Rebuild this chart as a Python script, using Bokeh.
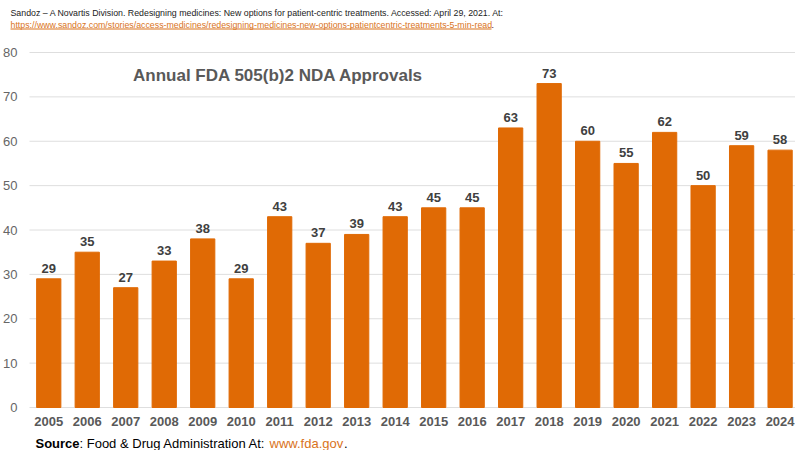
from bokeh.plotting import figure
from bokeh.models import ColumnDataSource, Label, BoxAnnotation
from bokeh.core.properties import value
from bokeh.embed import file_html
from bokeh.resources import INLINE

# Annual FDA 505(b)(2) NDA approvals
years = ["2005", "2006", "2007", "2008", "2009", "2010", "2011", "2012", "2013", "2014",
         "2015", "2016", "2017", "2018", "2019", "2020", "2021", "2022", "2023", "2024"]
approvals = [29, 35, 27, 33, 38, 29, 43, 37, 39, 43, 45, 45, 63, 73, 60, 55, 62, 50, 59, 58]
y_ticks = [0, 10, 20, 30, 40, 50, 60, 70, 80]

FONT = "Liberation Sans"
BAR = "#E06A05"
LINK = "#D9731C"
W, H = 795, 450

# The frame fills the whole canvas so that the citation and source lines
# (drawn as annotations) are not clipped. The value axis runs from pixel
# row 407 (0) up to row 52 (80); categories are 38.5 px apart.
PLOT_LEFT, PLOT_BOTTOM, PLOT_TOP = 29, 407, 52
unit_y = (PLOT_BOTTOM - PLOT_TOP) / 80.0
unit_x = (W - PLOT_LEFT) / 19.9
x_lo = -0.5 - PLOT_LEFT / unit_x
y_lo = -(H - PLOT_BOTTOM) / unit_y
y_hi = 80 + PLOT_TOP / unit_y

idx = list(range(len(years)))
src = ColumnDataSource(dict(x=idx, year=years, n=approvals,
                            label=[str(v) for v in approvals]))

p = figure(width=W, height=H, output_backend="svg", toolbar_location=None,
           x_range=(x_lo, 19.4), y_range=(y_lo, y_hi), min_border=0)
p.axis.visible = False
p.grid.visible = False
p.outline_line_color = None
p.background_fill_color = "white"
p.border_fill_color = "white"

# horizontal gridlines at each value tick
p.segment(x0=-0.5, x1=19.4, y0=y_ticks, y1=y_ticks, line_color="#DEDEDE", line_width=1)

# bars and their value labels
p.vbar(x="x", top="n", width=0.63, bottom=0, source=src, color=BAR)
p.text(x="x", y="n", text="label", source=src, text_align="center",
       text_baseline="bottom", y_offset=-6, text_font=value(FONT),
       text_font_style="bold", text_font_size="13px", text_color="#404040")

# value-axis tick labels
p.text(x=-0.5, y=y_ticks, text=[str(t) for t in y_ticks], x_offset=-12,
       text_align="right", text_baseline="middle", text_font=value(FONT),
       text_font_size="13px", text_color="#666666")

# year labels under the bars
p.text(x="x", y=0, text="year", source=src, y_offset=14, text_align="center",
       text_baseline="middle", text_font=value(FONT), text_font_style="bold",
       text_font_size="13px", text_color="#595959")


# free texts, positioned in canvas pixels from the top-left corner
def note(x, y, text, size="13px", color="#000000", style="normal", align="left"):
    p.add_layout(Label(x=x, y=H - y, x_units="screen", y_units="screen", text=text,
                       text_align=align, text_baseline="middle", text_font=FONT,
                       text_font_style=style, text_font_size=size, text_color=color))


note(278, 75, "Annual FDA 505(b)2 NDA Approvals", size="17px", color="#595959",
     style="bold", align="center")

# citation above the chart
note(10, 12, "Sandoz \u2013 A Novartis Division. Redesigning medicines: New options for "
             "patient-centric treatments. Accessed: April 29, 2021. At:",
     size="8.8px", color="#222222")
note(10, 24, "https://www.sandoz.com/stories/access-medicines/redesigning-medicines-"
             "new-options-patientcentric-treatments-5-min-read",
     size="8.8px", color=LINK)
note(491, 24, ".", size="8.8px", color="#222222")
p.add_layout(BoxAnnotation(left=10, right=491, bottom=H - 29, top=H - 28,
                           left_units="screen", right_units="screen",
                           bottom_units="screen", top_units="screen",
                           fill_color=LINK, fill_alpha=1, line_color=None))

# source line below the chart
note(35, 443, "Source", style="bold")
note(79, 443, ": Food & Drug Administration At: ")
note(269, 443, "www.fda.gov", color=LINK)
note(343.5, 443, ".")

open("out.html", "w").write(file_html(p, INLINE))
